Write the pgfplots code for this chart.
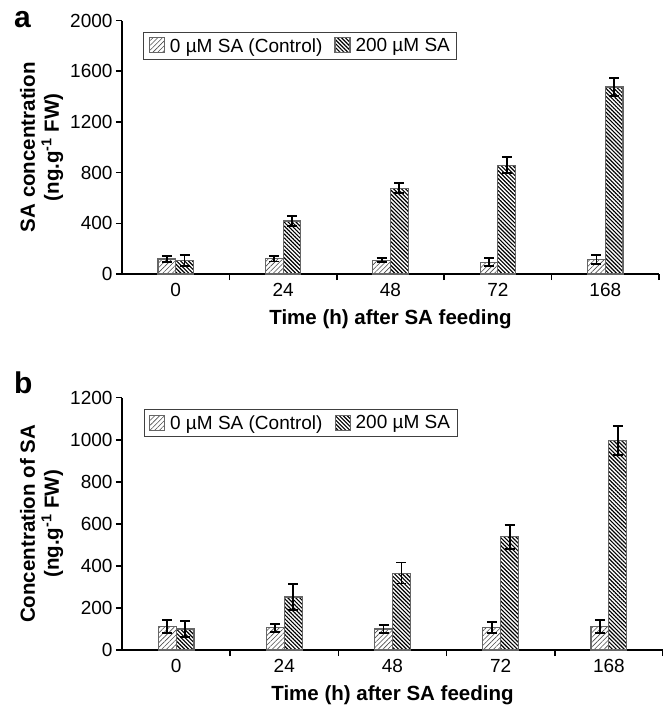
\documentclass[border=0pt]{standalone}
\usepackage{fontspec}
\setmainfont{Liberation Sans}
\usepackage{pgfplots}
\pgfplotsset{compat=1.18}
\usetikzlibrary{patterns.meta}

\tikzset{
 ctrl/.style={draw=black!60, line width=1.1pt, fill=white,
   postaction={pattern={Lines[angle=45,distance=3.4pt,line width=0.6pt]}, pattern color=black!70}},
 sa/.style={draw=black!60, line width=1.1pt, fill=white,
   postaction={pattern={Lines[angle=-45,distance=2.8pt,line width=1.15pt]}, pattern color=black}},
}

\pgfplotsset{
 panel/.style={
  scale only axis, ybar=0pt, bar width=0.165,
  xmin=-0.5, xmax=4.5, ymin=0,
  axis x line=bottom, axis y line=left,
  axis line style={line width=1.7pt, -},
  xtick={0.5,1.5,2.5,3.5,4.5}, xticklabels={},
  extra x ticks={0,1,2,3,4},
  extra x tick labels={0,24,48,72,168},
  extra x tick style={major tick length=0pt, xticklabel style={yshift=-6pt}},
  major tick length=6pt,
  tick align=outside,
  tick style={line width=1.5pt, black},
  tick label style={font=\fontsize{19}{20}\selectfont},
  /pgf/number format/assume math mode=true,
  /pgf/number format/1000 sep={},
  label style={font=\bfseries\fontsize{20.5}{24}\selectfont},
  ylabel style={align=center},
  xlabel={Time (h) after SA feeding},
  legend columns=2,
  legend style={at={(rel axis cs:0.04,0.955)}, anchor=north west,
    draw=black!75, line width=0.8pt, font=\fontsize{19}{22}\selectfont,
    inner xsep=5pt, inner ysep=4pt,
    /tikz/every even column/.append style={column sep=10pt}},
  legend image code/.code={\draw[##1] (0pt,-7pt) rectangle (15pt,8pt); \path (18pt,0pt);},
  error bars/y dir=both, error bars/y explicit,
  error bars/error bar style={line width=1.8pt, black},
  error bars/error mark options={rotate=90, mark size=5pt, line width=1.8pt, black},
 }
}

\begin{document}
\begin{tikzpicture}
\useasboundingbox (0pt,0pt) rectangle (663pt,-710pt);

% Panel a
\begin{axis}[panel, at={(122pt,-274pt)}, anchor=south west,
  width=537pt, height=253.5pt,
  ymax=2000, ytick={0,400,800,1200,1600,2000},
  ylabel={SA concentration\\(ng.g\textsuperscript{-1} FW)}]
\addplot[ctrl] coordinates {(0,118) +- (0,26) (1,121) +- (0,22) (2,110) +- (0,18) (3,94) +- (0,30) (4,115) +- (0,38)};
\addplot[sa] coordinates {(0,108) +- (0,44) (1,418) +- (0,41) (2,678) +- (0,40) (3,857) +- (0,63) (4,1475) +- (0,70)};
\legend{0 µM SA (Control), 200 µM SA}
\end{axis}

% Panel b
\begin{axis}[panel, at={(122pt,-650pt)}, anchor=south west,
  width=541pt, height=252.3pt,
  ymax=1200, ytick={0,200,400,600,800,1000,1200},
  ylabel={Concentration of SA\\(ng.g\textsuperscript{-1} FW)}]
\addplot[ctrl] coordinates {(0,111) +- (0,30) (1,105) +- (0,18) (2,100) +- (0,19) (3,106) +- (0,26) (4,112) +- (0,32)};
\addplot[sa] coordinates {(0,100) +- (0,38) (1,252) +- (0,62) (2,366) +- (0,50) (3,539) +- (0,57) (4,998) +- (0,69)};
\legend{0 µM SA (Control), 200 µM SA}
\end{axis}

\node[font=\bfseries\fontsize{30}{30}\selectfont, anchor=base west, inner sep=0pt] at (14pt,-27pt) {a};
\node[font=\bfseries\fontsize{30}{30}\selectfont, anchor=base west, inner sep=0pt] at (14pt,-393pt) {b};
\end{tikzpicture}
\end{document}
